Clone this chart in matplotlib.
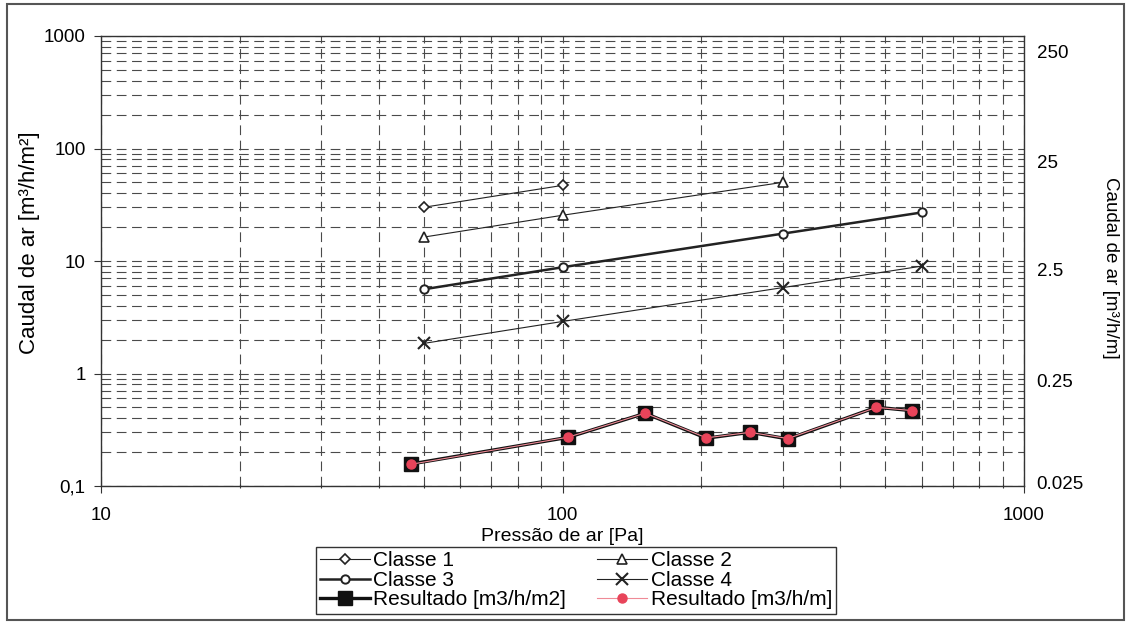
import matplotlib
matplotlib.use('Agg')
import matplotlib.pyplot as plt
from matplotlib.ticker import LogLocator, NullFormatter, FixedLocator
from matplotlib.patches import Rectangle
from matplotlib.transforms import ScaledTranslation

# ---------------- data ----------------
p_c1 = [50, 100]
q_c1 = [30, 47]
p_c2 = [50, 100, 300]
q_c2 = [16.3, 25.5, 50]
p_c3 = [50, 100, 300, 600]
q_c3 = [5.6, 8.8, 17.5, 27]
p_c4 = [50, 100, 300, 600]
q_c4 = [1.85, 2.9, 5.8, 9.0]
p_res = [47, 103, 151, 205, 255, 308, 479, 572]
q_res_m2 = [0.157, 0.271, 0.443, 0.266, 0.300, 0.262, 0.501, 0.467]
q_res_m = [0.039, 0.068, 0.111, 0.067, 0.075, 0.066, 0.125, 0.117]

x_ticks = [10, 100, 1000]
x_ticklabels = ['10', '100', '1000']
y_ticks = [0.1, 1, 10, 100, 1000]
y_ticklabels = ['0,1', '1', '10', '100', '1000']
y2_ticks = [0.025, 0.25, 2.5, 25, 250]
y2_ticklabels = ['0.025', '0.25', '2.5', '25', '250']

labels = ['Classe 1', 'Classe 2', 'Classe 3', 'Classe 4',
          'Resultado [m3/h/m2]', 'Resultado [m3/h/m]']

# ---------------- style ----------------
plt.rcParams['font.family'] = ['Liberation Sans', 'DejaVu Sans']
plt.rcParams['lines.scale_dashes'] = False

W, H = 1130, 625
fig = plt.figure(figsize=(W / 100, H / 100), dpi=100)
fig.patch.set_facecolor('white')

L, R, T, B = 101, 1024, 36, 486
ax = fig.add_axes([L / W, 1 - B / H, (R - L) / W, (B - T) / H])
ax.set_xscale('log')
ax.set_yscale('log')
ax.set_xlim(10, 1000)
ax.set_ylim(0.1, 1000)

ax.xaxis.set_major_locator(FixedLocator(x_ticks))
ax.set_xticklabels(x_ticklabels)
ax.xaxis.set_minor_locator(LogLocator(base=10, subs=range(2, 10)))
ax.xaxis.set_minor_formatter(NullFormatter())
ax.yaxis.set_major_locator(FixedLocator(y_ticks))
ax.set_yticklabels(y_ticklabels)
ax.yaxis.set_minor_locator(LogLocator(base=10, subs=range(2, 10), numticks=20))
ax.yaxis.set_minor_formatter(NullFormatter())

gridc = '#4a4a4a'
ax.grid(which='both', axis='both', color=gridc, linestyle=(0, (7, 4)), linewidth=0.8)
ax.set_axisbelow(True)

for s in ax.spines.values():
    s.set_color('#333333')
    s.set_linewidth(1.0)

ax.tick_params(axis='both', which='major', labelsize=13.5, length=5, width=0.8,
               color='#333333', direction='out', pad=6)
ax.tick_params(axis='x', which='minor', length=3, width=0.8, direction='inout', color='#333333')
ax.tick_params(axis='y', which='minor', length=0)
ax.tick_params(axis='x', which='major', pad=10)

lc = '#222222'
h1, = ax.plot(p_c1, q_c1, color=lc, lw=0.8, marker='D', ms=5, mfc='white', mec=lc, mew=1.2)
h2, = ax.plot(p_c2, q_c2, color=lc, lw=0.8, marker='^', ms=7, mfc='white', mec=lc, mew=1.2)
h3, = ax.plot(p_c3, q_c3, color=lc, lw=1.8, marker='o', ms=6, mfc='white', mec=lc, mew=1.4)
h4, = ax.plot(p_c4, q_c4, color=lc, lw=0.8, marker='x', ms=9, mec=lc, mew=1.5)
h5, = ax.plot(p_res, q_res_m2, color='#111111', lw=2.4, marker='s', ms=10, mfc='#111111', mec='#111111')

ax2 = ax.twinx()
ax2.set_yscale('log')
ax2.set_ylim(0.025, 250)
ax2.yaxis.set_major_locator(FixedLocator(y2_ticks))
ax2.set_yticklabels(y2_ticklabels)
ax2.yaxis.set_minor_locator(FixedLocator([]))
ax2.tick_params(axis='y', which='major', labelsize=13.5, length=0, pad=9)
for s in ax2.spines.values():
    s.set_visible(False)
# scanned label placement: labels sit slightly below their ticks (pixels)
label_drop_px = [-3, 7, 9, 13, 16]
for tick, d in zip(ax2.yaxis.get_major_ticks(), label_drop_px):
    tick.label2.set_transform(tick.label2.get_transform() +
                              ScaledTranslation(0, -d / 100, fig.dpi_scale_trans))
h6, = ax2.plot(p_res, q_res_m, color='#ef8a96', lw=0.8, marker='o', ms=6.5,
               mfc='#e8445a', mec='#e8445a')

ax.set_xlabel('Pressão de ar [Pa]', fontsize=14, labelpad=3)

fig.text(30 / W, 1 - 243 / H, 'Caudal de ar [m³/h/m²]', rotation=90, ha='center', va='center',
         fontsize=16, family=['Liberation Sans Narrow', 'Liberation Sans', 'DejaVu Sans'])
fig.text(1110 / W, 1 - 268 / H, 'Caudal de ar [m³/h/m]', rotation=270, ha='center', va='center',
         fontsize=13.5)

handles = [h1, h3, h5, h2, h4, h6]
leg_labels = [labels[0], labels[2], labels[4], labels[1], labels[3], labels[5]]
leg = fig.legend(handles, leg_labels, ncol=2, loc='upper left',
                 bbox_to_anchor=(316 / W, 1 - 547 / H), frameon=True, fancybox=False,
                 edgecolor='black', fontsize=15, handlelength=2.4, handletextpad=0.15,
                 columnspacing=1.5, labelspacing=0.03, borderpad=0.2, borderaxespad=0)
leg.get_frame().set_linewidth(1.0)

fig.patches.append(Rectangle((7 / W, 1 - 620 / H), (1124 - 7) / W, (620 - 4) / H,
                             transform=fig.transFigure, fill=False, edgecolor='#555555', lw=1.5))

fig.savefig('out.png', dpi=100)
